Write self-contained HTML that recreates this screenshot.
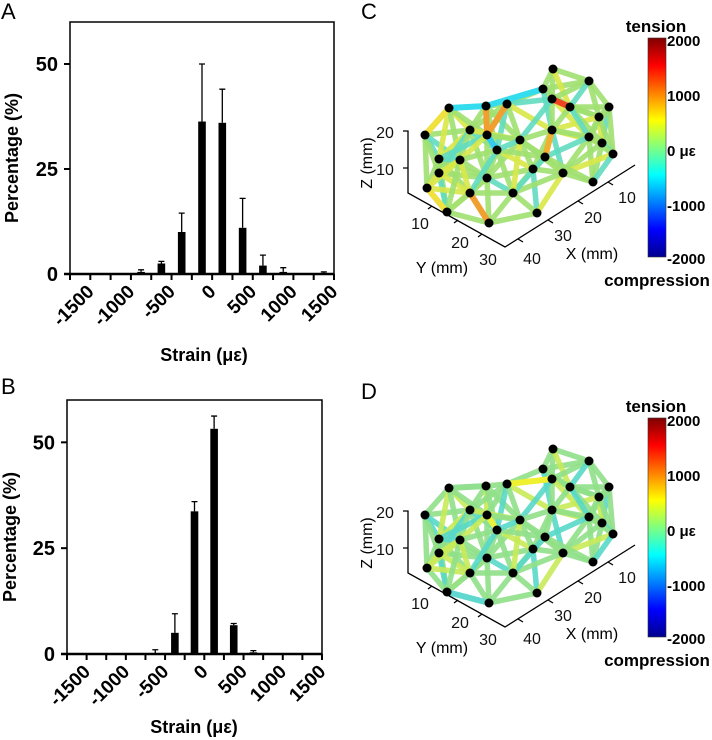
<!DOCTYPE html>
<html><head><meta charset="utf-8"><style>
body{margin:0;background:#fff;}
svg{display:block;font-family:"Liberation Sans",Arial,sans-serif;}
</style></head><body>
<svg id="fig" width="712" height="740" viewBox="0 0 712 740">
<defs>
<linearGradient id="jet" x1="0" y1="1" x2="0" y2="0">
<stop offset="0" stop-color="#00008f"/><stop offset="0.125" stop-color="#0000ff"/>
<stop offset="0.375" stop-color="#00ffff"/><stop offset="0.625" stop-color="#ffff00"/>
<stop offset="0.875" stop-color="#ff0000"/><stop offset="1" stop-color="#800000"/>
</linearGradient>
</defs>
<g id="panels"></g>
</svg>
<script>
const NS="http://www.w3.org/2000/svg";
const root=document.getElementById('panels');
function mk(tag,attrs,parent,txt){const e=document.createElementNS(NS,tag);for(const k in attrs)e.setAttribute(k,attrs[k]);if(txt!=null)e.textContent=txt;(parent||root).appendChild(e);return e;}

// ---- Bar chart data ----
const binsA=[-875,-625,-375,-125,125,375,625,875,1375];
const valsA=[0.5,2.5,10,36.3,36,11,2,0.5,0.2];
const errA=[1,3,14.5,50,44,18,4.5,1.5,0.5];
const binsB=[-625,-375,-125,125,375,625];
const valsB=[0.2,5,33.7,53.2,6.8,0.4];
const errB=[1,9.5,36,56.2,7.2,0.8];
const xTicks=[-1500,-1000,-500,0,500,1000,1500];
const yTicks=[0,25,50];

function barChart(name,label,box,bins,vals,errs){
  const g=mk('g',{});
  
  
  const {x0,x1,yTop,yBot,ly,tx,ty}=box;
  const xs=v=>x0+(v+1750)*(x1-x0)/3250;
  const ys=v=>yBot-v*(yBot-yTop)/60;
  const pl=mk('text',{x:1,y:ly,'font-size':22},g,label);
  
  
  const frame=mk('rect',{x:x0,y:yTop,width:x1-x0,height:yBot-yTop,fill:'none',stroke:'#000','stroke-width':1.5},g);
  
  
  mk('line',{x1:x0-6,y1:yBot,x2:x1,y2:yBot,stroke:'#000','stroke-width':2.5},g);
  for(let v=-1750;v<=1500;v+=250){mk('line',{x1:xs(v),y1:yBot,x2:xs(v),y2:yBot+6,stroke:'#000','stroke-width':2},g);}
  xTicks.forEach(v=>{
    const t=mk('text',{transform:`translate(${xs(v)},${yBot+14}) rotate(-45)`,'text-anchor':'end','font-size':19,'font-weight':'bold',dy:'0.35em'},g,String(v));
    
    
  });
  yTicks.forEach(v=>{
    mk('line',{x1:x0-6,y1:ys(v),x2:x0,y2:ys(v),stroke:'#000','stroke-width':2},g);
    const t=mk('text',{x:x0-12,y:ys(v)+7,'text-anchor':'end','font-size':20,'font-weight':'bold'},g,String(v));
    
    
  });
  bins.forEach((b,i)=>{
    const cx=xs(b);
    const bar=mk('rect',{x:cx-3.8,y:ys(vals[i]),width:7.6,height:yBot-ys(vals[i]),fill:'#000'},g);
    
    
    const eb=mk('path',{d:`M${cx} ${ys(vals[i])}V${ys(errs[i])}M${cx-3} ${ys(errs[i])}H${cx+3}`,stroke:'#000','stroke-width':1.3,fill:'none'},g);
    
    
  });
  const yt=mk('text',{transform:`translate(${ty},${(yTop+yBot)/2+10}) rotate(-90)`,'text-anchor':'middle','font-size':18,'font-weight':'bold'},g,'Percentage (%)');
  
  
  const xt=mk('text',{x:tx,y:box.xtY,'text-anchor':'middle','font-size':18,'font-weight':'bold'},g,'Strain (με)');
  
  
}
barChart('chart-a','A',{x0:70,x1:334,yTop:22,yBot:274,ly:19,tx:204,ty:18,xtY:361},binsA,valsA,errA);
barChart('chart-b','B',{x0:67,x1:322,yTop:400,yBot:654,ly:394,tx:194,ty:16,xtY:733},binsB,valsB,errB);

// ---- 3D network ----
const nodes=[[425,135],[449,108],[486,106],[507,104],[543,89],[553,69],[589,81],[609,107],[599,117],[552,99],[570,107],[470,130],[487,135],[602,143],[589,137],[613,154],[439,159],[439,173],[487,178],[533,169],[563,173],[593,182],[427,188],[447,212],[489,223],[537,213],[513,193],[470,193],[552,130],[497,150],[545,157],[520,140],[460,160]];
const hotC=[[1,2,'#33ddee'],[2,4,'#33ddee'],[12,2,'#f0a030'],[12,3,'#f0a030'],[9,10,'#ee4422'],[0,1,'#f0e040'],[24,27,'#f0a030'],[12,29,'#33ccee'],[30,28,'#f0b030'],[22,23,'#f0e040']];
const hotD=[[3,9,'#eef030'],[12,29,'#e8f040'],[23,24,'#60d8d0'],[1,2,'#90e090']];
function network(name,dy,hot,tint){
  const g=mk('g',{transform:`translate(0,${dy})`});
  
  
  const eg=mk('g',{},g);
  for(let i=0;i<nodes.length;i++)for(let j=i+1;j<nodes.length;j++){
    const d=Math.hypot(nodes[i][0]-nodes[j][0],nodes[i][1]-nodes[j][1]);
    if(d<55){
      const c=((i*7+j*3)%5===0)?tint[1]:((i+j)%4===0?tint[2]:tint[0]);
      mk('line',{x1:nodes[i][0],y1:nodes[i][1],x2:nodes[j][0],y2:nodes[j][1],stroke:c,'stroke-width':5.5,'stroke-linecap':'round','stroke-opacity':0.9},eg);
    }
  }
  hot.forEach(h=>{const a=nodes[h[0]],b=nodes[h[1]];
    const l=mk('line',{x1:a[0],y1:a[1],x2:b[0],y2:b[1],stroke:h[2],'stroke-width':6,'stroke-linecap':'round'},eg);
    
    
  });
  nodes.forEach(n=>{const c=mk('circle',{cx:n[0],cy:n[1],r:4.5,fill:'#000'},g);
    
    });
  mk('path',{d:'M403 131H408V193L505 247L635 165M403 168H408',fill:'none',stroke:'#000','stroke-width':1.3},g);
  [[432,206],[458,220],[482,234]].forEach(p=>mk('line',{x1:p[0],y1:p[1],x2:p[0]-4,y2:p[1]+3,stroke:'#000','stroke-width':1.3},g));
  [[518,239],[548,220],[578,201],[608,182]].forEach(p=>mk('line',{x1:p[0],y1:p[1],x2:p[0]+5,y2:p[1]+3,stroke:'#000','stroke-width':1.3},g));
  const lbls=[['20',385,138],['10',385,175],['10',420,229],['20',460,248],['30',488,265],['40',532,264],['30',563,241],['20',593,223],['10',627,203]];
  lbls.forEach(l=>{const t=mk('text',{x:l[1],y:l[2],'text-anchor':'middle','font-size':16,fill:'#111'},g,l[0]);
    
    });
  const zt=mk('text',{transform:'translate(372,163) rotate(-90)','text-anchor':'middle','font-size':16},g,'Z (mm)');
  
  const yt=mk('text',{x:442,y:273,'text-anchor':'middle','font-size':16},g,'Y (mm)');
  
  const xt=mk('text',{x:592,y:259,'text-anchor':'middle','font-size':16},g,'X (mm)');
  
  const cb=mk('rect',{x:648,y:38,width:18,height:219,fill:'url(#jet)',stroke:'#333','stroke-width':0.6},g);
  
  [['2000',45],['1000',100],['0  με',155],['-1000',210],['-2000',263]].forEach(l=>{
    const t=mk('text',{x:667,y:l[1]+1,'font-size':15,'font-weight':'bold','xml:space':'preserve'},g,l[0]);
    });
  const tt=mk('text',{x:656,y:32,'text-anchor':'middle','font-size':17,'font-weight':'bold'},g,'tension');
  
  const ct=mk('text',{x:657,y:286,'text-anchor':'middle','font-size':17,'font-weight':'bold'},g,'compression');
  
}
network('network-c',0,hotC,['#9ee070','#d8e848','#60dcc0']);
network('network-d',380,hotD,['#90e088','#c8ea58','#58d8c8']);
const lc=mk('text',{x:361,y:19,'font-size':22},root,'C');

const ld=mk('text',{x:361,y:399,'font-size':22},root,'D');

</script>
</body></html>
